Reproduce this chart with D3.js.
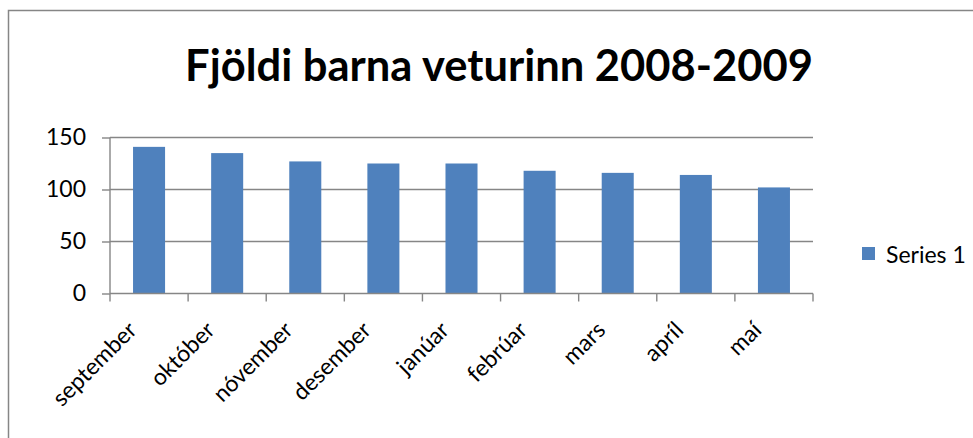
<!DOCTYPE html>
<html>
<head>
<meta charset="utf-8">
<script src="https://cdn.jsdelivr.net/npm/d3@7"></script>
<style>
  body { margin: 0; background: #fff; }
  text { font-family: Lato, "Open Sans", sans-serif; fill: #000; }
</style>
</head>
<body>
<svg id="chart" width="973" height="438"></svg>
<script>
let months = ["september", "október", "nóvember", "desember", "janúar", "febrúar", "mars", "apríl", "maí"];
let counts = [141, 135, 127, 125, 125, 118, 116, 114, 102];
let yTicks = [0, 50, 100, 150];
let seriesName = "Series 1";
let title = "Fjöldi barna veturinn 2008-2009";

let margin = {top: 137.5, left: 110, right: 160, bottom: 144.5};
let W = 973, H = 438;
let width = W - margin.left - margin.right;
let height = H - margin.top - margin.bottom;

let svg = d3.select("#chart");

// chart frame
svg.append("rect")
  .attr("x", 8.5).attr("y", 10.5)
  .attr("width", 1000).attr("height", 1000)
  .attr("fill", "none")
  .attr("stroke", "#868686")
  .attr("stroke-width", 1.5);

svg.append("text")
  .attr("x", 499).attr("y", 81)
  .attr("text-anchor", "middle")
  .style("font-size", "43.5px")
  .style("font-weight", "bold")
  .text(title);

let g = svg.append("g").attr("transform", `translate(${margin.left},${margin.top})`);

let x = d3.scaleBand().domain(months).range([0, width]).paddingInner(0.59).paddingOuter(0.295);
let xb = d3.scaleBand().domain(months).range([0, width]);
let y = d3.scaleLinear().domain([0, 150]).range([height, 0]);

// gridlines
g.selectAll("line.grid")
  .data(yTicks.filter(d => d > 0))
  .enter().append("line")
  .attr("class", "grid")
  .attr("x1", 0).attr("x2", width)
  .attr("y1", d => y(d)).attr("y2", d => y(d))
  .attr("stroke", "#868686")
  .attr("stroke-width", 1.4);

g.selectAll("rect.bar")
  .data(counts)
  .enter().append("rect")
  .attr("class", "bar")
  .attr("x", (d, i) => x(months[i]))
  .attr("width", x.bandwidth())
  .attr("y", d => y(d))
  .attr("height", d => height - y(d))
  .attr("fill", "#4F81BD");

// y axis
let yAxis = g.append("g")
  .call(d3.axisLeft(y).tickValues(yTicks).tickSize(8).tickPadding(16));
yAxis.selectAll("line, path").attr("stroke", "#868686").attr("stroke-width", 1.4);
yAxis.select(".domain").attr("d", `M0,${height}V0`);
yAxis.selectAll("text").style("font-size", "23px").style("font-family", "Lato, sans-serif").attr("fill", "#000");

// x axis with ticks at band edges
let xAxisG = g.append("g").attr("transform", `translate(0,${height})`);
xAxisG.append("line")
  .attr("x1", 0).attr("x2", width)
  .attr("stroke", "#868686").attr("stroke-width", 1.4);
let edges = months.map(m => xb(m)).concat([width]);
xAxisG.selectAll("line.tick")
  .data(edges)
  .enter().append("line")
  .attr("class", "tick")
  .attr("x1", d => d).attr("x2", d => d)
  .attr("y1", 0).attr("y2", 8)
  .attr("stroke", "#868686").attr("stroke-width", 1.4);

xAxisG.selectAll("text.lbl")
  .data(months)
  .enter().append("text")
  .attr("class", "lbl")
  .attr("text-anchor", "end")
  .attr("transform", d => `translate(${xb(d) + xb.bandwidth() / 2 - 11},${38}) rotate(-45)`)
  .style("font-size", "23px")
  .text(d => d);

// legend
let lg = svg.append("g").attr("transform", "translate(862,247)");
lg.append("rect").attr("width", 13).attr("height", 13).attr("fill", "#4F81BD");
lg.append("text").attr("x", 24).attr("y", 16).style("font-size", "23px").text(seriesName);
</script>
</body>
</html>
